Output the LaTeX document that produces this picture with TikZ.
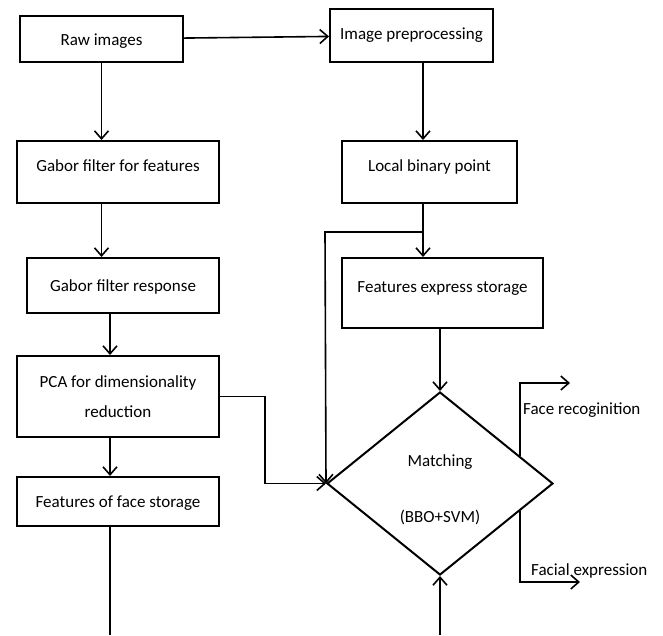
\documentclass[tikz,border=0pt]{standalone}
\usepackage{fontspec}
\setmainfont{Carlito}
\usetikzlibrary{shapes.geometric, arrows.meta, calc}
\tikzset{
  block/.style={draw, line width=2pt, inner sep=2pt, align=center},
  oneline/.style={text height=15pt, text depth=3pt},
  upper/.style={text height=15pt, text depth=16pt},
  decision/.style={draw, diamond, line width=2pt, inner sep=0pt}
}

\begin{document}
\begin{tikzpicture}[x=1pt, y=-1pt, >={Straight Barb[length=8pt,width=14pt]}, line width=1.6pt, font=\fontsize{17}{20}\selectfont]
    \useasboundingbox (0,0) rectangle (663,635);

    % Left column
    \node[block, oneline, minimum width=163pt, minimum height=46pt] (raw) at (101.5,39) {Raw images};
    \node[block, upper, minimum width=202pt, minimum height=62pt] (gabor) at (118,172) {Gabor filter for features};
    \node[block, oneline, minimum width=192pt, minimum height=55pt] (resp) at (123,285.5) {Gabor filter response};
    \node[block, minimum width=202pt, minimum height=81pt] (pca) at (118,396.5) {PCA for dimensionality\\[10pt]reduction};
    \node[block, oneline, minimum width=202pt, minimum height=49pt] (face) at (118,501.5) {Features of face storage};

    % Right column
    \node[block, minimum width=163pt, minimum height=53pt] (prep) at (411.5,35.5) {Image preprocessing};
    \node[block, upper, minimum width=175pt, minimum height=62pt] (local) at (429.5,172) {Local binary point};
    \node[block, upper, minimum width=201pt, minimum height=70pt] (express) at (442.5,293) {Features express storage};

    % Matching
    \node[decision, minimum width=226pt, minimum height=183pt, aspect=1.235] (match) at (440,483.5) {};
    \node (mtop) at (440,462) {Matching};
    \node (mbot) at (440,517) {(BBO+SVM)};

    % Outputs
    \node[anchor=west] (recog) at (519,410) {Face recoginition};
    \node[anchor=west] (facial) at (527,571) {Facial expression};

    % Helper points
    \coordinate (colA) at (110,0);
    \coordinate (jn) at (423,232);
    \coordinate (bend) at (325,232);
    \coordinate (pcol) at (265,0);
    \coordinate (botL) at (110,635);
    \coordinate (botR) at (440,635);
    \coordinate (outA) at ($(match.north)!0.7!(match.east)$);
    \coordinate (outB) at ($(match.east)!0.3!(match.south)$);
    \coordinate (recogEnd) at (570,383);
    \coordinate (facialEnd) at (580,582);

    % Connectors, left
    \draw[->] (raw) -- (prep);
    \draw[->] (raw) -- (gabor.north -| raw);
    \draw[->] (gabor.south -| raw) -- (resp.north -| raw);
    \draw[->] (resp.south -| colA) -- (pca.north -| colA);
    \draw[->] (pca.south -| colA) -- (face.north -| colA);
    \draw (face.south -| colA) -- (botL);
    \draw[->] (pca.east) -| (pcol |- match.west) -- (match.west);

    % Connectors, right
    \draw[->] (prep.south -| jn) -- (local.north -| jn);
    \draw (local.south -| jn) -- (jn);
    \draw[->] (jn) -- (express.north -| jn);
    \draw[->] (jn) -- (bend) -- (match.west);
    \draw[->] (express.south -| match.north) -- (match.north);
    \draw[->] (botR) -- (match.south);

    % Results
    \draw[->] (outA) |- (recogEnd);
    \draw[->] (outB) |- (facialEnd);
\end{tikzpicture}
\end{document}
